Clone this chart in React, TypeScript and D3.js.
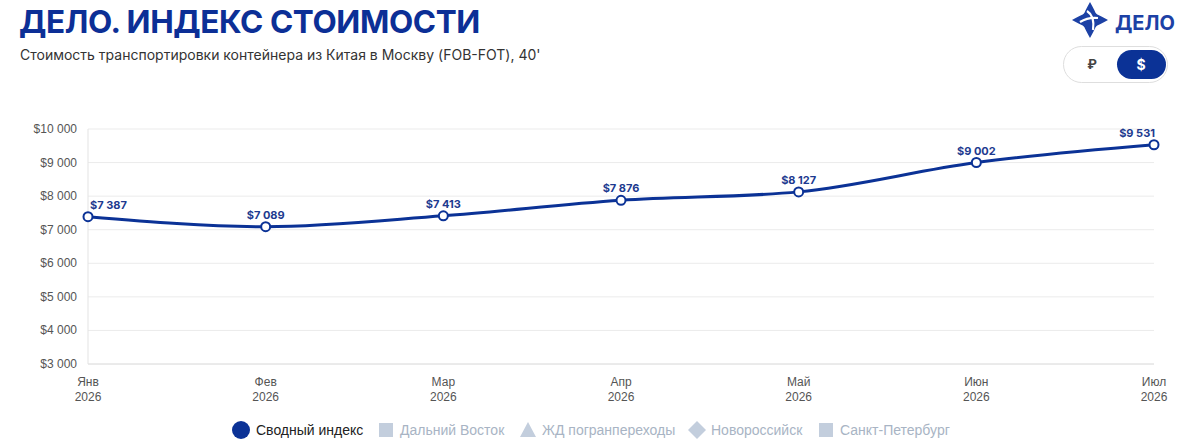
import React from 'react';
import * as d3 from 'd3';

const months = ['Янв', 'Фев', 'Мар', 'Апр', 'Май', 'Июн', 'Июл'];
const year = '2026';
const values = [7387, 7089, 7413, 7876, 8127, 9002, 9531];
const yTicks = [3000, 4000, 5000, 6000, 7000, 8000, 9000, 10000];

const legendItems = [
    { name: 'Сводный индекс', symbol: 'circle', active: true },
    { name: 'Дальний Восток', symbol: 'square', active: false },
    { name: 'ЖД погранпереходы', symbol: 'triangle', active: false },
    { name: 'Новороссийск', symbol: 'diamond', active: false },
    { name: 'Санкт-Петербург', symbol: 'square', active: false },
];

const W = 1196;
const H = 441;
const BLUE = '#0b3296';
const fmt = (v: number) => '$' + d3.format(',')(v).replace(/,/g, ' ');

export default function App() {
    const x = d3.scalePoint<string>().domain(months).range([88, 1154]);
    const y = d3.scaleLinear().domain([3000, 10000]).range([364, 129]);

    const line = d3.line<number>()
        .x((_, i) => x(months[i]) as number)
        .y(d => y(d))
        .curve(d3.curveMonotoneX);

    // legend layout (x positions of each symbol)
    const legendX = [241, 386, 528, 697, 826];

    return (
        <svg width={W} height={H} style={{ position: 'absolute', left: 0, top: 0, display: 'block' }}
             fontFamily="Inter, 'Noto Sans', sans-serif">
            <rect width={W} height={H} fill="#fff" />

            {/* header */}
            <text x={19} y={33} fontSize={31.5} fontWeight={700} fill="#0c2f96" letterSpacing={-0.4}>
                ДЕЛО. ИНДЕКС СТОИМОСТИ
            </text>
            <text x={20} y={60} fontSize={14} fill="#333">
                Стоимость транспортировки контейнера из Китая в Москву (FOB-FOT), 40'
            </text>

            {/* logo */}
            <g transform="translate(1090,20)" fill="#1c41a5">
                <path d="M0,-18 Q5,-9 6,-6 Q9,-5 18,0 Q9,5 6,6 Q5,9 0,18 Q-5,9 -6,6 Q-9,5 -18,0 Q-9,-5 -6,-6 Q-5,-9 0,-18 Z" />
                <circle r={9} />
                <path d="M-3,-9 Q5,-4 3,10" stroke="#fff" strokeWidth={2.2} fill="none" />
                <path d="M-10,2 Q-2,-3 8,-2" stroke="#fff" strokeWidth={2.2} fill="none" />
            </g>
            <text x={1115} y={30} fontSize={20} fontWeight={700} fill="#1c41a5">ДЕЛО</text>

            {/* currency toggle */}
            <rect x={1063.5} y={46.5} width={104} height={36} rx={18} fill="#fff" stroke="#dedede" />
            <rect x={1117} y={50} width={49} height={29} rx={14.5} fill="#0b3296" />
            <text x={1092} y={69} fontSize={13} fontWeight={700} fill="#444" textAnchor="middle">₽</text>
            <text x={1141} y={70} fontSize={14} fontWeight={700} fill="#fff" textAnchor="middle">$</text>

            {/* grid */}
            {yTicks.map(t => (
                <line key={t} x1={88} x2={1154} y1={y(t)} y2={y(t)}
                      stroke={t === 3000 ? '#d6d6d6' : '#ebebeb'} />
            ))}
            <line x1={88} x2={88} y1={129} y2={364} stroke="#e3e3e3" />

            {/* y axis labels */}
            {yTicks.map(t => (
                <text key={t} x={77} y={y(t) + 4} fontSize={12} fill="#555" textAnchor="end"
                      fontFamily="'Liberation Sans', Arial, sans-serif">
                    {fmt(t)}
                </text>
            ))}

            {/* x axis labels */}
            {months.map(m => (
                <g key={m} fontFamily="'Liberation Sans', Arial, sans-serif" fontSize={12} fill="#555">
                    <text x={x(m)} y={386} textAnchor="middle">{m}</text>
                    <text x={x(m)} y={401} textAnchor="middle">{year}</text>
                </g>
            ))}

            {/* series */}
            <path d={line(values) || ''} fill="none" stroke={BLUE} strokeWidth={3} strokeLinejoin="round" />
            {values.map((v, i) => {
                const px = x(months[i]) as number;
                let anchor: 'start' | 'middle' | 'end' = 'middle';
                let lx = px;
                if (i === 0) { anchor = 'start'; lx = px + 2; }
                if (i === values.length - 1) { anchor = 'end'; lx = px + 1; }
                return (
                    <g key={i}>
                        <circle cx={px} cy={y(v)} r={4.5} fill="#fff" stroke={BLUE} strokeWidth={2} />
                        <text x={lx} y={y(v) - 8} fontSize={11} fontWeight={700} fill="#1d3a8f"
                              textAnchor={anchor}>{fmt(v)}</text>
                    </g>
                );
            })}

            {/* legend */}
            {legendItems.map((it, i) => {
                const cx = legendX[i];
                const cy = 430;
                const col = it.active ? '#0b3296' : '#c3cedd';
                let sym;
                if (it.symbol === 'circle') sym = <circle cx={cx} cy={cy} r={9} fill={col} />;
                else if (it.symbol === 'square') sym = <rect x={cx - 7} y={cy - 7} width={14} height={14} fill={col} />;
                else if (it.symbol === 'triangle') sym = <path d={`M${cx},${cy - 8} L${cx + 8},${cy + 7} L${cx - 8},${cy + 7} Z`} fill={col} />;
                else sym = <path d={`M${cx},${cy - 9} L${cx + 9},${cy} L${cx},${cy + 9} L${cx - 9},${cy} Z`} fill={col} />;
                return (
                    <g key={it.name}>
                        {sym}
                        <text x={cx + (it.symbol === 'circle' ? 15 : 14)} y={cy + 5} fontSize={14}
                              fontFamily="'Liberation Sans', Arial, sans-serif"
                              fill={it.active ? '#222' : '#a8b4c4'}>{it.name}</text>
                    </g>
                );
            })}
        </svg>
    );
}
